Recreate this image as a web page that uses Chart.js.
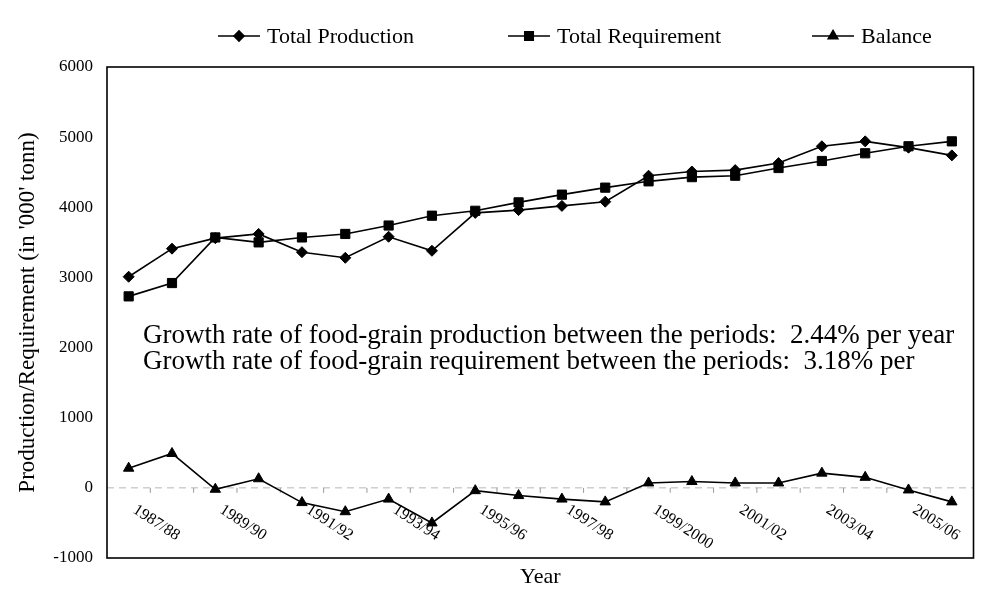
<!DOCTYPE html>
<html>
<head>
<meta charset="utf-8">
<script src="https://cdn.jsdelivr.net/npm/chart.js@4/dist/chart.umd.min.js"></script>
<style>
  html, body { margin: 0; padding: 0; background: #ffffff; }
  #wrap { width: 981px; height: 596px; }
</style>
</head>
<body>
<div id="wrap"><canvas id="c" width="981" height="596"></canvas></div>
<script>
// ---------------- data ----------------
const categories = [
  "1987/88", "1988/89", "1989/90", "1990/91", "1991/92", "1992/93", "1993/94",
  "1994/95", "1995/96", "1996/97", "1997/98", "1998/99", "1999/2000", "2000/01",
  "2001/02", "2002/03", "2003/04", "2004/05", "2005/06", "2006/07"
];
const totalProduction = [
  3010, 3410, 3560, 3620, 3360, 3280, 3580, 3380, 3920, 3960,
  4020, 4080, 4450, 4510, 4530, 4630, 4870, 4940, 4850, 4740
];
const totalRequirement = [
  2730, 2920, 3570, 3500, 3570, 3620, 3740, 3880, 3950, 4070,
  4180, 4280, 4370, 4430, 4450, 4560, 4660, 4770, 4870, 4940
];
const balance = [
  280, 490, -20, 130, -210, -340, -160, -500, -40, -110,
  -160, -200, 70, 90, 70, 70, 210, 150, -30, -200
];
const seriesNames = ["Total Production", "Total Requirement", "Balance"];
const yMin = -1000, yMax = 6000, yStep = 1000;
const xLabelEvery = 2;
const yTitle = "Production/Requirement (in '000' tonn)";
const xTitle = "Year";
const noteLines = [
  "Growth rate of food-grain production between the periods:  2.44% per year",
  "Growth rate of food-grain requirement between the periods:  3.18% per"
];

// ---------------- styles ----------------
const SERIF = "'Liberation Serif', 'Times New Roman', serif";
const styles = [
  { pointStyle: 'rectRot', radius: 5.5 },
  { pointStyle: 'rect', radius: 6.5 },
  { pointStyle: 'triangle', radius: 6 }
];
const legendItems = [
  { x: 218 }, { x: 508 }, { x: 812 }
];

function mkDataset(label, data, st) {
  return {
    label: label,
    data: data,
    borderColor: '#000',
    backgroundColor: '#000',
    borderWidth: 1.6,
    pointStyle: st.pointStyle,
    pointRadius: st.radius,
    pointHoverRadius: st.radius,
    pointBackgroundColor: '#000',
    pointBorderColor: '#000',
    pointBorderWidth: 1,
    tension: 0,
    fill: false
  };
}

const H = Chart.helpers;

const decorPlugin = {
  id: 'decor',
  beforeDatasetsDraw(chart) {
    const ctx = chart.ctx;
    const xs = chart.scales.x, ys = chart.scales.y;
    const area = chart.chartArea;
    const y0 = ys.getPixelForValue(0);
    ctx.save();
    // zero (category axis) line
    ctx.strokeStyle = '#b8b8b8';
    ctx.lineWidth = 1;
    ctx.setLineDash([7, 5]);
    ctx.beginPath();
    ctx.moveTo(area.left, y0);
    ctx.lineTo(area.right, y0);
    ctx.stroke();
    ctx.setLineDash([]);
    // tick marks between categories
    ctx.strokeStyle = '#9a9a9a';
    for (let i = 1; i < categories.length; i++) {
      const x = (xs.getPixelForValue(i - 1) + xs.getPixelForValue(i)) / 2;
      ctx.beginPath();
      ctx.moveTo(x, y0);
      ctx.lineTo(x, y0 + 5);
      ctx.stroke();
    }
    ctx.restore();
  },
  afterDraw(chart) {
    const ctx = chart.ctx;
    const xs = chart.scales.x, ys = chart.scales.y;
    const area = chart.chartArea;
    ctx.save();
    // plot-area border
    ctx.strokeStyle = '#000';
    ctx.lineWidth = 1.6;
    ctx.strokeRect(area.left, area.top, area.right - area.left, area.bottom - area.top);

    // rotated category labels beside the zero line
    const y0 = ys.getPixelForValue(0);
    ctx.fillStyle = '#000';
    ctx.font = "16px " + SERIF;
    ctx.textAlign = 'left';
    ctx.textBaseline = 'top';
    categories.forEach((c, i) => {
      if (i % xLabelEvery !== 0) return;
      const x = xs.getPixelForValue(i);
      ctx.save();
      ctx.translate(x + 10, y0 + 14);
      ctx.rotate(33 * Math.PI / 180);
      ctx.fillText(c, 0, 0);
      ctx.restore();
    });

    // note text
    ctx.font = "27px " + SERIF;
    ctx.textBaseline = 'alphabetic';
    ctx.fillText(noteLines[0], area.left + 36, area.top + 276);
    ctx.fillText(noteLines[1], area.left + 36, area.top + 302);

    // legend
    const ly = 36;
    chart.data.datasets.forEach((ds, i) => {
      const lx = legendItems[i].x;
      ctx.strokeStyle = '#000';
      ctx.lineWidth = 1.6;
      ctx.beginPath();
      ctx.moveTo(lx, ly);
      ctx.lineTo(lx + 42, ly);
      ctx.stroke();
      ctx.fillStyle = '#000';
      H.drawPoint(ctx, { pointStyle: styles[i].pointStyle, radius: styles[i].radius - 0.5, rotation: 0, borderWidth: 1 }, lx + 21, ly);
      ctx.fillStyle = '#000';
      ctx.font = "22px " + SERIF;
      ctx.textAlign = 'left';
      ctx.textBaseline = 'middle';
      ctx.fillText(ds.label, lx + 49, ly + 1);
    });
    ctx.restore();
  }
};

new Chart(document.getElementById('c'), {
  type: 'line',
  data: {
    labels: categories,
    datasets: [
      mkDataset(seriesNames[0], totalProduction, styles[0]),
      mkDataset(seriesNames[1], totalRequirement, styles[1]),
      mkDataset(seriesNames[2], balance, styles[2])
    ]
  },
  options: {
    responsive: false,
    devicePixelRatio: 1,
    animation: false,
    layout: { padding: { top: 67, right: 3, bottom: 0, left: 0 } },
    plugins: {
      legend: { display: false },
      tooltip: { enabled: false }
    },
    scales: {
      x: {
        type: 'category',
        offset: true,
        grid: { display: false, drawTicks: false },
        border: { display: false },
        ticks: { display: false },
        title: {
          display: true, text: xTitle, color: '#000',
          font: { family: SERIF, size: 22 },
          padding: { top: 0, bottom: 6 }
        },
        afterFit(scale) { scale.height = 38; }
      },
      y: {
        min: yMin, max: yMax,
        grid: { display: false, drawTicks: false },
        border: { display: false },
        ticks: {
          stepSize: yStep, color: '#000', padding: 14,
          font: { family: SERIF, size: 17 },
          callback: (v) => String(v)
        },
        title: {
          display: true, text: yTitle, color: '#000',
          font: { family: SERIF, size: 23 },
          padding: { top: 14, bottom: 0 }
        },
        afterFit(scale) { scale.width = 107; }
      }
    }
  },
  plugins: [decorPlugin]
});
</script>
</body>
</html>
